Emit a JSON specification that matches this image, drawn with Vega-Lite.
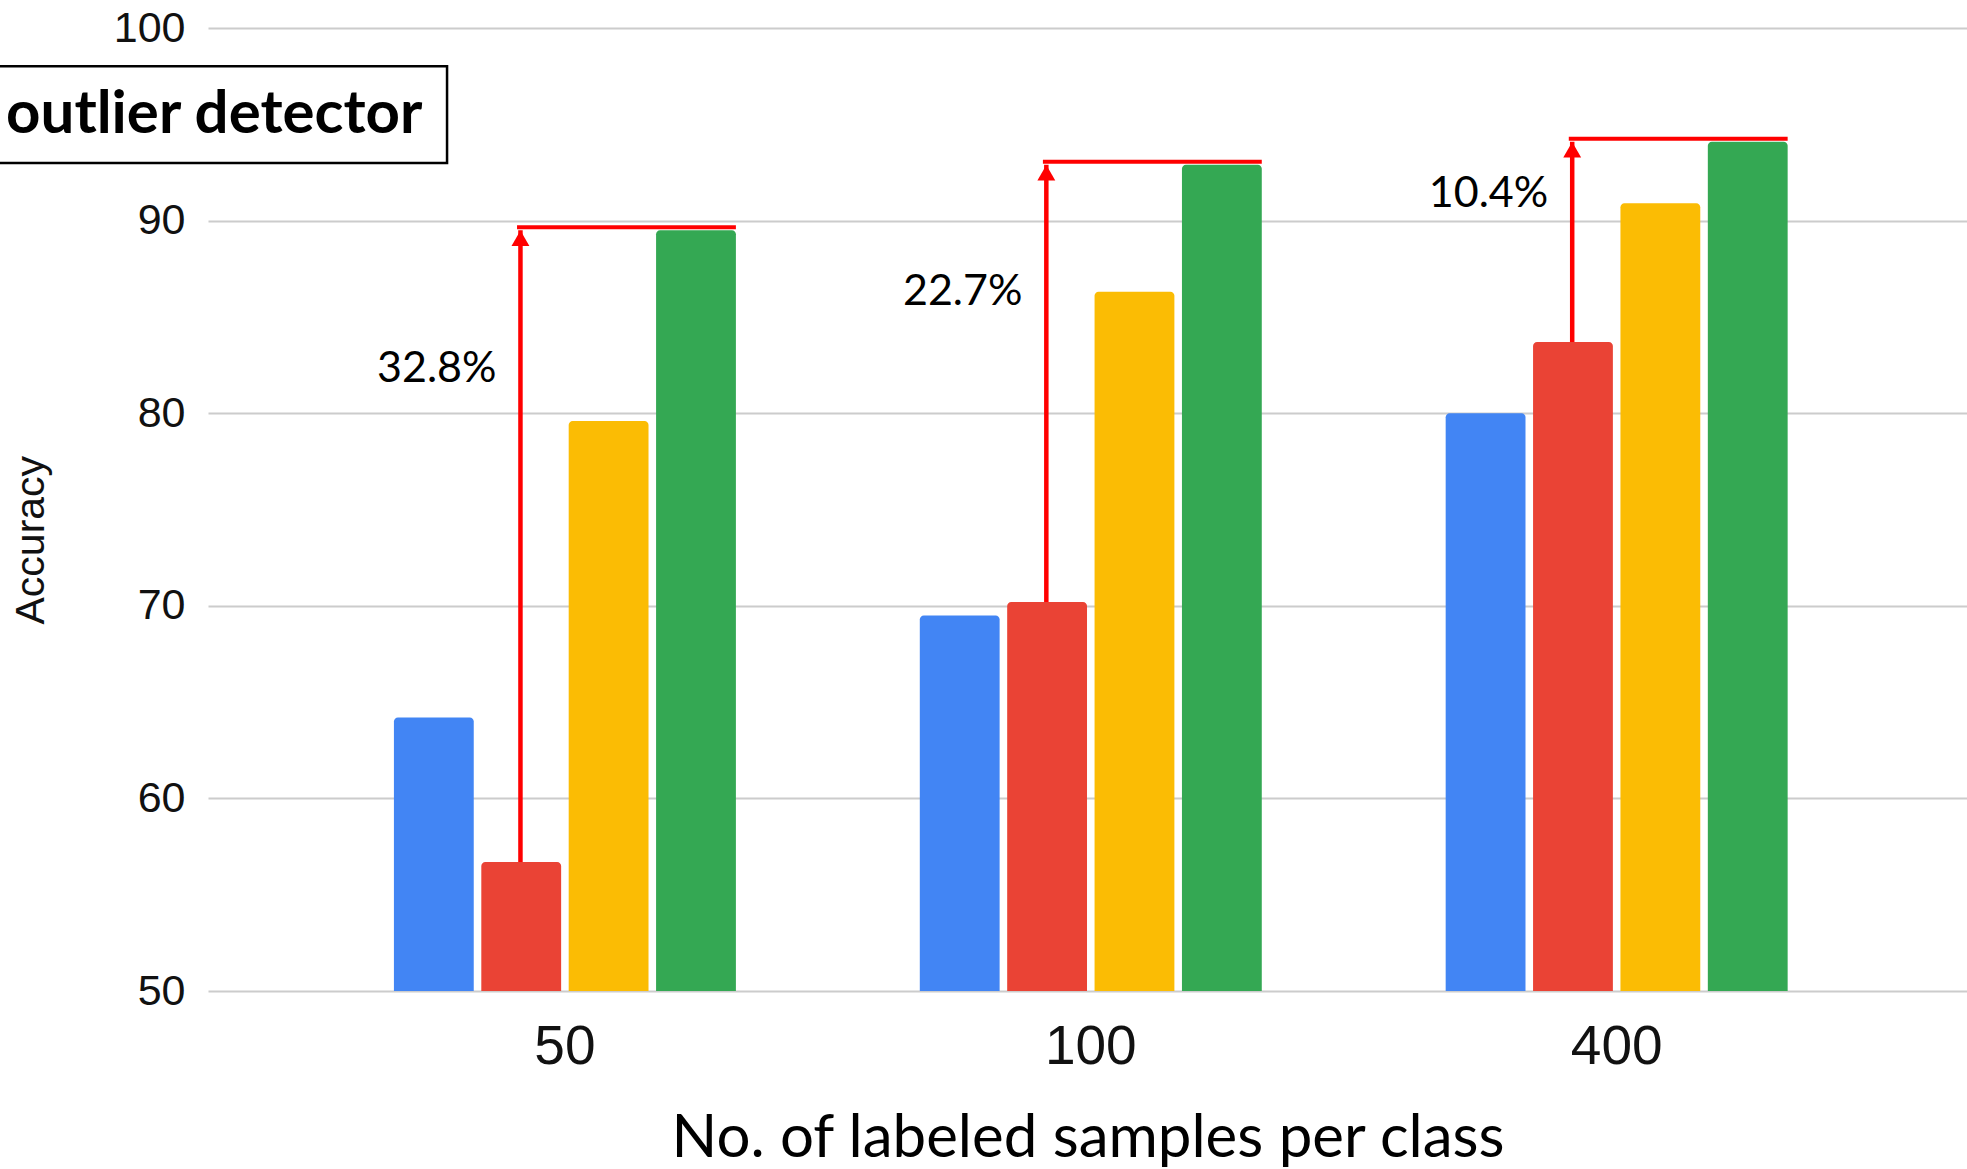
{
  "$schema": "https://vega.github.io/schema/vega-lite/v6.json",
  "width": 1759,
  "height": 963,
  "autosize": "none",
  "padding": {"left": 208, "top": 28, "right": 0, "bottom": 178},
  "background": "white",
  "config": {"view": {"stroke": null}},
  "datasets": {
    "bars": [
      {"group": "50", "series": "Series 1", "value": 64.2},
      {"group": "50", "series": "Series 2", "value": 56.7},
      {"group": "50", "series": "Series 3", "value": 79.6},
      {"group": "50", "series": "Series 4", "value": 89.5},
      {"group": "100", "series": "Series 1", "value": 69.5},
      {"group": "100", "series": "Series 2", "value": 70.2},
      {"group": "100", "series": "Series 3", "value": 86.3},
      {"group": "100", "series": "Series 4", "value": 92.9},
      {"group": "400", "series": "Series 1", "value": 80.0},
      {"group": "400", "series": "Series 2", "value": 83.7},
      {"group": "400", "series": "Series 3", "value": 90.9},
      {"group": "400", "series": "Series 4", "value": 94.1}
    ],
    "gaps": [
      {"group": "50", "low": 56.7, "high": 89.5, "label": "32.8%", "label_y": 81.6},
      {"group": "100", "low": 70.2, "high": 92.9, "label": "22.7%", "label_y": 85.6},
      {"group": "400", "low": 83.7, "high": 94.1, "label": "10.4%", "label_y": 90.7}
    ],
    "box": [{"text": "outlier detector"}]
  },
  "layer": [
    {
      "layer": [
        {
          "data": {"name": "bars"},
          "mark": {"type": "bar", "cornerRadiusTopLeft": 4, "cornerRadiusTopRight": 4},
          "encoding": {
            "x": {
              "field": "group", "type": "nominal", "sort": ["50", "100", "400"],
              "scale": {"paddingInner": 0.3497, "paddingOuter": 0.3473, "align": 0.509},
              "title": "No. of labeled samples per class",
              "axis": {
                "labelFont": "Liberation Sans", "labelFontSize": 55, "labelColor": "#111111",
                "labelPadding": 29, "labelAngle": 0, "domain": false, "ticks": false, "grid": false,
                "titleFont": "Lato", "titleFontSize": 60, "titleFontWeight": "normal", "titleColor": "#000000",
                "titleY": 165, "titleBaseline": "alphabetic"
              }
            },
            "xOffset": {
              "field": "series", "type": "nominal",
              "scale": {"paddingInner": 0.0865, "paddingOuter": 0}
            },
            "y": {
              "field": "value", "type": "quantitative",
              "scale": {"domain": [50, 100], "zero": false, "nice": false},
              "title": "Accuracy",
              "axis": {
                "values": [50, 60, 70, 80, 90, 100],
                "labelFont": "Liberation Sans", "labelFontSize": 43, "labelColor": "#111111",
                "labelPadding": 23, "domain": false, "ticks": false,
                "grid": true, "gridColor": "#cccccc", "gridWidth": 2,
                "titleFont": "Liberation Sans", "titleFontSize": 41, "titleFontWeight": "normal",
                "titleColor": "#111111", "titleX": -164.7, "titleY": 511.7,
                "titleBaseline": "alphabetic", "titleAngle": -90, "titleAlign": "center"
              }
            },
            "y2": {"datum": 50},
            "color": {
              "field": "series", "type": "nominal",
              "scale": {
                "domain": ["Series 1", "Series 2", "Series 3", "Series 4"],
                "range": ["#4285F4", "#EA4335", "#FBBC04", "#34A853"]
              },
              "legend": null
            }
          }
        },
        {
          "data": {"name": "gaps"},
          "mark": {"type": "rule", "color": "#ff0000", "strokeWidth": 4.5},
          "encoding": {
            "x": {"field": "group", "type": "nominal", "sort": ["50", "100", "400"], "bandPosition": 0.37},
            "y": {"field": "low", "type": "quantitative"},
            "y2": {"field": "high"}
          }
        },
        {
          "data": {"name": "gaps"},
          "mark": {"type": "rule", "color": "#ff0000", "strokeWidth": 4, "yOffset": -3},
          "encoding": {
            "x": {"field": "group", "type": "nominal", "sort": ["50", "100", "400"], "bandPosition": 0.36},
            "x2": {"field": "group", "bandPosition": 1},
            "y": {"field": "high", "type": "quantitative"}
          }
        },
        {
          "data": {"name": "gaps"},
          "mark": {"type": "point", "shape": "triangle-up", "filled": true, "color": "#ff0000", "size": 320, "opacity": 1, "yOffset": 8},
          "encoding": {
            "x": {"field": "group", "type": "nominal", "sort": ["50", "100", "400"], "bandPosition": 0.37},
            "y": {"field": "high", "type": "quantitative"}
          }
        },
        {
          "data": {"name": "gaps"},
          "mark": {"type": "text", "align": "right", "baseline": "alphabetic", "font": "Lato", "fontSize": 43, "color": "#000000"},
          "encoding": {
            "x": {"field": "group", "type": "nominal", "sort": ["50", "100", "400"], "bandPosition": 0.3},
            "y": {"field": "label_y", "type": "quantitative"},
            "text": {"field": "label"}
          }
        }
      ]
    },
    {
      "data": {"name": "box"},
      "layer": [
        {
          "mark": {"type": "rect", "fill": "white", "stroke": "black", "strokeWidth": 2.5},
          "encoding": {
            "x": {"datum": -0.3, "type": "quantitative", "scale": {"domain": [0, 1], "nice": false, "zero": false}, "axis": null},
            "x2": {"datum": 0.1359},
            "y": {"datum": 92.99, "type": "quantitative"},
            "y2": {"datum": 98.01}
          }
        },
        {
          "mark": {"type": "text", "align": "left", "baseline": "alphabetic", "font": "Lato", "fontWeight": "bold", "fontSize": 60, "color": "#000000"},
          "encoding": {
            "x": {"datum": -0.1148, "type": "quantitative", "axis": null},
            "y": {"datum": 94.55, "type": "quantitative"},
            "text": {"field": "text"}
          }
        }
      ]
    }
  ],
  "resolve": {"scale": {"x": "independent"}}
}
